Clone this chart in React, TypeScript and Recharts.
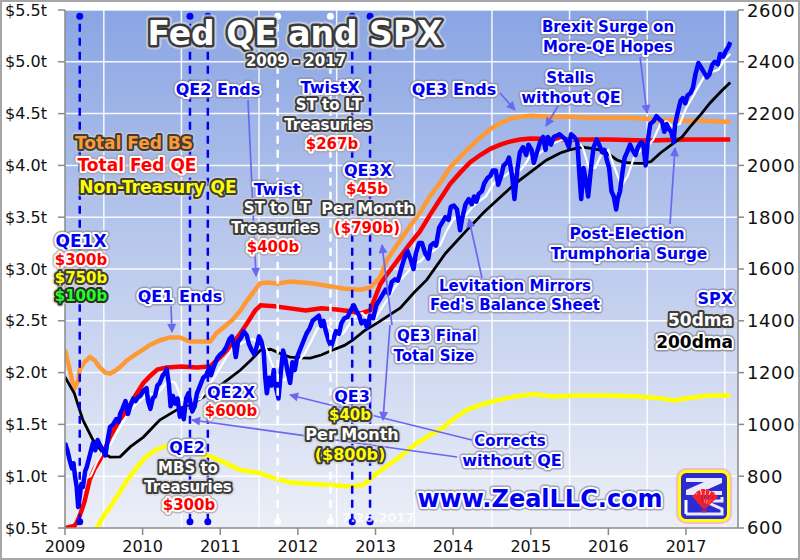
import React from 'react';
import { LineChart, Line, XAxis, YAxis, CartesianGrid, ReferenceLine, ReferenceDot } from 'recharts';

// ---------- axis ticks ----------
const yearTicks = [2009, 2010, 2011, 2012, 2013, 2014, 2015, 2016, 2017];
const gridYears = [2009, 2009.5, 2010, 2010.5, 2011, 2011.5, 2012, 2012.5, 2013, 2013.5, 2014, 2014.5, 2015, 2015.5, 2016, 2016.5, 2017, 2017.5];
const fedTicks = [0.5, 1, 1.5, 2, 2.5, 3, 3.5, 4, 4.5, 5, 5.5];
const fedMinorTicks = [0.5, 0.6, 0.7, 0.8, 0.9, 1, 1.1, 1.2, 1.3, 1.4, 1.5, 1.6, 1.7, 1.8, 1.9, 2, 2.1, 2.2, 2.3, 2.4, 2.5, 2.6, 2.7, 2.8, 2.9, 3, 3.1, 3.2, 3.3, 3.4, 3.5, 3.6, 3.7, 3.8, 3.9, 4, 4.1, 4.2, 4.3, 4.4, 4.5, 4.6, 4.7, 4.8, 4.9, 5, 5.1, 5.2, 5.3, 5.4, 5.5];
const spxTicks = [600, 800, 1000, 1200, 1400, 1600, 1800, 2000, 2200, 2400, 2600];
const spxMinorTicks = [600, 650, 700, 750, 800, 850, 900, 950, 1000, 1050, 1100, 1150, 1200, 1250, 1300, 1350, 1400, 1450, 1500, 1550, 1600, 1650, 1700, 1750, 1800, 1850, 1900, 1950, 2000, 2050, 2100, 2150, 2200, 2250, 2300, 2350, 2400, 2450, 2500, 2550, 2600];

// ---------- QE event dates ----------
const qeEventDates = [2009.19, 2010.61, 2010.84, 2012.7, 2012.93];
const twistEventDates = [2011.74, 2012.42];

// ---------- SPX (right axis) ----------
const spxDates = [
  2009.00, 2009.03, 2009.06, 2009.09, 2009.11, 2009.13, 2009.15, 2009.17, 2009.19, 2009.21, 2009.23, 2009.26, 2009.28, 2009.31, 2009.34, 2009.36, 2009.39, 2009.42, 2009.45, 2009.49, 2009.52, 2009.55, 2009.58, 2009.62, 2009.66, 2009.69, 2009.71, 2009.74, 2009.78, 2009.81, 2009.84, 2009.88, 2009.91, 2009.94, 2009.97,
  2010.01, 2010.05, 2010.07, 2010.10, 2010.13, 2010.16, 2010.19, 2010.22, 2010.26, 2010.29, 2010.31, 2010.34, 2010.36, 2010.39, 2010.42, 2010.45, 2010.48, 2010.50, 2010.53, 2010.56, 2010.59, 2010.62, 2010.64, 2010.67, 2010.70, 2010.74, 2010.78, 2010.82, 2010.86, 2010.88, 2010.92, 2010.96,
  2011.00, 2011.04, 2011.08, 2011.12, 2011.15, 2011.18, 2011.20, 2011.23, 2011.27, 2011.30, 2011.34, 2011.37, 2011.40, 2011.44, 2011.47, 2011.50, 2011.53, 2011.56, 2011.58, 2011.60, 2011.63, 2011.66, 2011.69, 2011.72, 2011.75, 2011.78, 2011.81, 2011.84, 2011.87, 2011.90, 2011.93, 2011.96, 2011.99,
  2012.03, 2012.07, 2012.11, 2012.15, 2012.19, 2012.23, 2012.27, 2012.30, 2012.33, 2012.36, 2012.40, 2012.43, 2012.46, 2012.49, 2012.53, 2012.56, 2012.60, 2012.64, 2012.68, 2012.72, 2012.75, 2012.79, 2012.82, 2012.86, 2012.89, 2012.93, 2012.97,
  2013.01, 2013.05, 2013.09, 2013.13, 2013.17, 2013.21, 2013.25, 2013.29, 2013.33, 2013.37, 2013.41, 2013.45, 2013.49, 2013.52, 2013.56, 2013.60, 2013.64, 2013.68, 2013.71, 2013.75, 2013.78, 2013.82, 2013.86, 2013.90, 2013.94, 2013.97,
  2014.01, 2014.05, 2014.09, 2014.12, 2014.16, 2014.20, 2014.24, 2014.27, 2014.30, 2014.33, 2014.37, 2014.40, 2014.44, 2014.48, 2014.51, 2014.55, 2014.58, 2014.62, 2014.65, 2014.69, 2014.72, 2014.76, 2014.79, 2014.83, 2014.86, 2014.90, 2014.94, 2014.97,
  2015.01, 2015.04, 2015.08, 2015.12, 2015.16, 2015.19, 2015.22, 2015.26, 2015.30, 2015.34, 2015.37, 2015.41, 2015.45, 2015.49, 2015.52, 2015.56, 2015.60, 2015.63, 2015.65, 2015.68, 2015.71, 2015.74, 2015.78, 2015.81, 2015.85, 2015.88, 2015.92, 2015.95, 2015.98,
  2016.01, 2016.04, 2016.07, 2016.10, 2016.12, 2016.15, 2016.18, 2016.21, 2016.24, 2016.28, 2016.31, 2016.35, 2016.38, 2016.42, 2016.45, 2016.48, 2016.51, 2016.54, 2016.58, 2016.62, 2016.65, 2016.69, 2016.72, 2016.75, 2016.78, 2016.81, 2016.84, 2016.86, 2016.89, 2016.93, 2016.96, 2016.99,
  2017.02, 2017.06, 2017.09, 2017.12, 2017.16, 2017.20, 2017.23, 2017.27, 2017.30, 2017.34, 2017.37, 2017.41, 2017.44, 2017.48, 2017.51, 2017.55, 2017.57,
];
const spxValues = [
  928, 900, 862, 830, 850, 797, 760, 681, 720, 770, 758, 820, 835, 870, 905, 928, 900, 940, 920, 900, 880, 940, 990, 1000, 1020, 1010, 1040, 1060, 1090, 1040, 1070, 1100, 1090, 1105, 1110,
  1130, 1140, 1090, 1060, 1100, 1110, 1150, 1160, 1190, 1200, 1215, 1150, 1070, 1110, 1080, 1100, 1030, 1060, 1020, 1100, 1120, 1080, 1050, 1070, 1120, 1150, 1180, 1190, 1220, 1190, 1225, 1255,
  1270, 1280, 1300, 1330, 1340, 1300, 1260, 1320, 1335, 1360, 1345, 1310, 1290, 1270, 1300, 1340, 1320, 1280, 1180, 1120, 1180, 1150, 1210, 1140, 1100, 1200, 1285, 1250, 1200, 1160, 1240, 1210, 1260,
  1290, 1320, 1350, 1370, 1400, 1410, 1420, 1380, 1400, 1360, 1320, 1300, 1330, 1360, 1350, 1390, 1410, 1415, 1440, 1460, 1440, 1420, 1390, 1400, 1375, 1420, 1410,
  1460, 1480, 1500, 1520, 1505, 1550, 1560, 1555, 1600, 1640, 1670, 1640, 1600, 1660, 1700, 1700, 1660, 1640, 1690, 1700, 1690, 1760, 1780, 1800, 1790, 1840,
  1845, 1830, 1750, 1800, 1850, 1870, 1850, 1880, 1860, 1890, 1900, 1930, 1950, 1960, 1980, 1980, 1925, 1960, 2000, 2010, 2030, 1960, 1870, 1990, 2050, 2070, 2040, 2080,
  2060, 2010, 2050, 2090, 2110, 2060, 2110, 2080, 2110, 2115, 2120, 2110, 2100, 2070, 2120, 2110, 2090, 1950, 1870, 1990, 1940, 1880, 2000, 2070, 2100, 2080, 2050, 2060, 2020,
  1990, 1900, 1880, 1830, 1870, 1900, 1970, 2030, 2050, 2080, 2060, 2040, 2070, 2090, 2080, 2000, 2100, 2160, 2170, 2190, 2180, 2170, 2130, 2160, 2140, 2130, 2090, 2160, 2200, 2250, 2260, 2240,
  2270, 2280, 2300, 2350, 2395, 2375, 2360, 2340, 2350, 2390, 2400, 2390, 2430, 2420, 2440, 2460, 2476,
];

// ---------- SPX 50-day moving average ----------
const ma50Dates = [
  2009.00, 2009.08, 2009.17, 2009.25, 2009.33, 2009.42, 2009.50, 2009.58, 2009.67, 2009.75, 2009.83, 2009.92,
  2010.00, 2010.08, 2010.17, 2010.25, 2010.33, 2010.42, 2010.50, 2010.58, 2010.67, 2010.75, 2010.83, 2010.92,
  2011.00, 2011.08, 2011.17, 2011.25, 2011.33, 2011.42, 2011.50, 2011.58, 2011.67, 2011.75, 2011.83, 2011.92,
  2012.00, 2012.08, 2012.17, 2012.25, 2012.33, 2012.42, 2012.50, 2012.58, 2012.67, 2012.75, 2012.83, 2012.92,
  2013.00, 2013.08, 2013.17, 2013.25, 2013.33, 2013.42, 2013.50, 2013.58, 2013.67, 2013.75, 2013.83, 2013.92,
  2014.00, 2014.08, 2014.17, 2014.25, 2014.33, 2014.42, 2014.50, 2014.58, 2014.67, 2014.75, 2014.83, 2014.92,
  2015.00, 2015.08, 2015.17, 2015.25, 2015.33, 2015.42, 2015.50, 2015.58, 2015.67, 2015.75, 2015.83, 2015.92,
  2016.00, 2016.08, 2016.17, 2016.25, 2016.33, 2016.42, 2016.50, 2016.58, 2016.67, 2016.75, 2016.83, 2016.92,
  2017.00, 2017.08, 2017.17, 2017.25, 2017.33, 2017.42, 2017.50, 2017.57,
];
const ma50Values = [
  880, 870, 820, 790, 800, 860, 900, 920, 970, 1010, 1050, 1080,
  1100, 1120, 1110, 1140, 1170, 1160, 1100, 1080, 1090, 1100, 1140, 1180,
  1220, 1260, 1300, 1310, 1320, 1330, 1310, 1300, 1230, 1180, 1170, 1220,
  1240, 1270, 1320, 1370, 1390, 1370, 1340, 1350, 1390, 1420, 1430, 1400,
  1410, 1450, 1490, 1530, 1560, 1590, 1620, 1630, 1660, 1670, 1690, 1750,
  1790, 1810, 1810, 1840, 1860, 1880, 1920, 1950, 1960, 1980, 1970, 2000,
  2040, 2040, 2060, 2080, 2090, 2100, 2100, 2100, 2070, 1990, 1990, 2050,
  2060, 1990, 1920, 1960, 2030, 2060, 2070, 2100, 2160, 2170, 2150, 2160,
  2220, 2260, 2310, 2350, 2360, 2370, 2410, 2430,
];

// ---------- SPX 200-day moving average ----------
const ma200Dates = [
  2009.00, 2009.12, 2009.23, 2009.36, 2009.49, 2009.58, 2009.71, 2009.84, 2010.01, 2010.22, 2010.44, 2010.65, 2010.87,
  2011.09, 2011.26, 2011.40, 2011.52, 2011.65, 2011.80, 2011.90, 2012.03, 2012.16, 2012.30, 2012.45, 2012.60, 2012.71, 2012.85,
  2013.02, 2013.32, 2013.50, 2013.66, 2013.90, 2014.18, 2014.40, 2014.61, 2014.80, 2015.03, 2015.20, 2015.38, 2015.50, 2015.66,
  2015.80, 2015.90, 2016.00, 2016.11, 2016.20, 2016.32, 2016.45, 2016.55, 2016.67, 2016.84, 2016.95, 2017.05, 2017.20, 2017.31,
  2017.45, 2017.57,
];
const ma200Values = [
  1183, 1120, 1017, 940, 890, 874, 875, 913, 951, 1017, 1056, 1083, 1121,
  1171, 1210, 1250, 1287, 1290, 1270, 1260, 1257, 1256, 1268, 1287, 1305, 1326, 1360,
  1391, 1450, 1510, 1558, 1660, 1751, 1820, 1878, 1930, 1982, 2020, 2048, 2060, 2071,
  2065, 2059, 2045, 2021, 2012, 2009, 2008, 2015, 2048, 2086, 2110, 2148, 2200, 2241,
  2285, 2320,
];

// ---------- Total Fed balance sheet ($t, left axis) ----------
const fedBsDates = [
  2009.00, 2009.06, 2009.10, 2009.13, 2009.17, 2009.19, 2009.25, 2009.32, 2009.38, 2009.45, 2009.52, 2009.58, 2009.65, 2009.72, 2009.80, 2009.90,
  2010.00, 2010.10, 2010.22, 2010.35, 2010.48, 2010.61, 2010.75, 2010.87, 2010.95,
  2011.00, 2011.16, 2011.26, 2011.35, 2011.45, 2011.51, 2011.60, 2011.75, 2011.90,
  2012.05, 2012.20, 2012.35, 2012.45, 2012.60, 2012.80, 2012.93,
  2013.06, 2013.15, 2013.32, 2013.45, 2013.57, 2013.70, 2013.83, 2013.96,
  2014.09, 2014.22, 2014.35, 2014.48, 2014.61, 2014.73, 2014.86,
  2015.00, 2015.25, 2015.50, 2015.75, 2016.00, 2016.25, 2016.50, 2016.62, 2016.80, 2017.00, 2017.25, 2017.57,
];
const fedBsValues = [
  2.22, 2.03, 1.9, 1.86, 1.92, 2.03, 2.1, 2.15, 2.12, 2.05, 2.0, 1.99, 2.02, 2.06, 2.12, 2.17,
  2.22, 2.27, 2.31, 2.34, 2.34, 2.3, 2.3, 2.3, 2.38,
  2.41, 2.51, 2.6, 2.7, 2.8, 2.86, 2.87, 2.86, 2.88,
  2.87, 2.86, 2.84, 2.83, 2.81, 2.8, 2.82,
  2.92, 3.09, 3.28, 3.42, 3.54, 3.7, 3.83, 3.98,
  4.08, 4.18, 4.27, 4.35, 4.41, 4.45, 4.47,
  4.48, 4.47, 4.47, 4.46, 4.46, 4.46, 4.45, 4.43, 4.44, 4.43, 4.43, 4.42,
];

// ---------- Total Fed QE ($t, left axis) ----------
const fedQeDates = [
  2009.00, 2009.12, 2009.15, 2009.19, 2009.25, 2009.32, 2009.38, 2009.45, 2009.52, 2009.58, 2009.70, 2009.80, 2009.90,
  2010.01, 2010.10, 2010.19, 2010.31, 2010.50, 2010.70, 2010.87,
  2011.00, 2011.13, 2011.26, 2011.35, 2011.45, 2011.52, 2011.70, 2011.90,
  2012.10, 2012.30, 2012.50, 2012.70, 2012.80, 2012.93,
  2013.06, 2013.15, 2013.32, 2013.45, 2013.57, 2013.70, 2013.83, 2013.96,
  2014.09, 2014.22, 2014.35, 2014.48, 2014.61, 2014.73, 2014.86,
  2015.00, 2015.50, 2016.00, 2016.50, 2017.00, 2017.57,
];
const fedQeValues = [
  0.5, 0.52, 0.55, 0.62, 0.75, 0.97, 1.07, 1.16, 1.27, 1.38, 1.54, 1.64, 1.77,
  1.9, 1.97, 2.03, 2.05, 2.06, 2.05, 2.06,
  2.15, 2.25, 2.38, 2.48, 2.6, 2.65, 2.64, 2.62,
  2.6, 2.62, 2.61, 2.59, 2.57, 2.6,
  2.85, 2.95, 3.12, 3.25, 3.36, 3.52, 3.67, 3.82,
  3.93, 4.03, 4.1, 4.16, 4.2, 4.23, 4.25,
  4.26, 4.25, 4.25, 4.24, 4.25, 4.25,
];

// ---------- Non-Treasury QE ($t, left axis) ----------
const nonTreasDates = [
  2009.00, 2009.20, 2009.41, 2009.50, 2009.58, 2009.70, 2009.80, 2009.90,
  2010.01, 2010.10, 2010.22, 2010.35, 2010.50, 2010.70, 2010.87,
  2011.00, 2011.26, 2011.51, 2011.70, 2011.90,
  2012.10, 2012.30, 2012.50, 2012.70, 2012.85,
  2013.02, 2013.15, 2013.32, 2013.50, 2013.66, 2013.87,
  2014.00, 2014.18, 2014.40, 2014.61, 2014.80,
  2015.03, 2015.30, 2015.60, 2016.00, 2016.40, 2016.70, 2016.85, 2017.00, 2017.30, 2017.57,
];
const nonTreasValues = [
  0.05, 0.3, 0.5, 0.62, 0.7, 0.84, 0.96, 1.06,
  1.16, 1.22, 1.27, 1.3, 1.27, 1.22, 1.19,
  1.15, 1.06, 1.03, 0.98, 0.94,
  0.93, 0.92, 0.91, 0.9, 0.92,
  1.03, 1.1, 1.19, 1.3, 1.38, 1.47,
  1.55, 1.64, 1.7, 1.74, 1.77,
  1.79, 1.77, 1.78, 1.78, 1.77, 1.75, 1.73, 1.75, 1.78, 1.78,
];

const zip = (ts: number[], vs: number[]) => ts.map((t, i) => ({ t, v: vs[i] }));
const spxData = zip(spxDates, spxValues);
const ma50Data = zip(ma50Dates, ma50Values);
const ma200Data = zip(ma200Dates, ma200Values);
const fedBsData = zip(fedBsDates, fedBsValues);
const fedQeData = zip(fedQeDates, fedQeValues);
const nonTreasData = zip(nonTreasDates, nonTreasValues);

// ---------- annotation layout (overlay, page pixels) ----------
type Ann = { t: string; x: number; y: number; s: number; k: string; a?: 'start' | 'middle' | 'end' };
const annotations: Ann[] = [
  { t: 'Fed QE and SPX', x: 295, y: 33, s: 33, k: 'title' },
  { t: '2009 - 2017', x: 296, y: 61, s: 15, k: 'white' },
  { t: 'QE2 Ends', x: 218, y: 89, s: 16, k: 'blue' },
  { t: 'TwistX', x: 330, y: 87, s: 16, k: 'blue' },
  { t: 'ST to LT', x: 329, y: 105, s: 15, k: 'white' },
  { t: 'Treasuries', x: 328, y: 125, s: 15, k: 'white' },
  { t: '$267b', x: 332, y: 144, s: 15, k: 'red' },
  { t: 'Total Fed BS', x: 134, y: 143, s: 17, k: 'orange' },
  { t: 'Total Fed QE', x: 137, y: 165, s: 17, k: 'red' },
  { t: 'Non-Treasury QE', x: 158, y: 187, s: 17, k: 'yellow' },
  { t: 'Twist', x: 277, y: 189, s: 16, k: 'blue' },
  { t: 'ST to LT', x: 277, y: 208, s: 15, k: 'white' },
  { t: 'Treasuries', x: 275, y: 228, s: 15, k: 'white' },
  { t: '$400b', x: 273, y: 247, s: 15, k: 'red' },
  { t: 'QE3X', x: 368, y: 170, s: 16, k: 'blue' },
  { t: '$45b', x: 367, y: 189, s: 15, k: 'red' },
  { t: 'Per Month', x: 368, y: 208, s: 16, k: 'white' },
  { t: '($790b)', x: 367, y: 228, s: 15, k: 'red' },
  { t: 'QE1X', x: 81, y: 241, s: 17, k: 'blue' },
  { t: '$300b', x: 81, y: 260, s: 15, k: 'red' },
  { t: '$750b', x: 81, y: 278, s: 15, k: 'yellow' },
  { t: '$100b', x: 81, y: 296, s: 15, k: 'green' },
  { t: 'QE1 Ends', x: 180, y: 296, s: 16, k: 'blue' },
  { t: 'QE2X', x: 231, y: 392, s: 16, k: 'blue' },
  { t: '$600b', x: 231, y: 411, s: 15, k: 'red' },
  { t: 'QE2', x: 187, y: 447, s: 16, k: 'blue' },
  { t: 'MBS to', x: 188, y: 468, s: 15, k: 'white' },
  { t: 'Treasuries', x: 188, y: 487, s: 15, k: 'white' },
  { t: '$300b', x: 189, y: 505, s: 15, k: 'red' },
  { t: 'QE3', x: 352, y: 396, s: 16, k: 'blue' },
  { t: '$40b', x: 350, y: 415, s: 15, k: 'yellow' },
  { t: 'Per Month', x: 352, y: 434, s: 16, k: 'white' },
  { t: '($800b)', x: 350, y: 454, s: 16, k: 'yellow' },
  { t: 'QE3 Ends', x: 454, y: 89, s: 16, k: 'blue' },
  { t: 'Stalls', x: 570, y: 78, s: 15, k: 'blue' },
  { t: 'without QE', x: 571, y: 97, s: 16, k: 'blue' },
  { t: 'Brexit Surge on', x: 608, y: 27, s: 15, k: 'blue' },
  { t: 'More-QE Hopes', x: 608, y: 47, s: 15, k: 'blue' },
  { t: 'Post-Election', x: 627, y: 234, s: 15.5, k: 'blue' },
  { t: 'Trumphoria Surge', x: 629, y: 254, s: 15.5, k: 'blue' },
  { t: 'Levitation Mirrors', x: 515, y: 286, s: 15, k: 'blue' },
  { t: "Fed's Balance Sheet", x: 515, y: 305, s: 15, k: 'blue' },
  { t: 'QE3 Final', x: 437, y: 336, s: 15, k: 'blue' },
  { t: 'Total Size', x: 434, y: 356, s: 15, k: 'blue' },
  { t: 'SPX', x: 733, y: 298, s: 16, k: 'blue', a: 'end' },
  { t: '50dma', x: 733, y: 320, s: 17, k: 'white', a: 'end' },
  { t: '200dma', x: 733, y: 342, s: 17, k: 'black', a: 'end' },
  { t: 'Corrects', x: 510, y: 441, s: 15, k: 'blue' },
  { t: 'without QE', x: 512, y: 460, s: 16, k: 'blue' },
  { t: 'www.ZealLLC.com', x: 540, y: 499, s: 24, k: 'blue' },
  { t: '7.26.2017', x: 378, y: 517, s: 13, k: 'date' },
];

const arrows: number[][] = [
  [248, 100, 256, 276],
  [171, 306, 172, 332],
  [500, 93, 515, 110],
  [558, 106, 546, 126],
  [640, 57, 647, 113],
  [670, 224, 675, 148],
  [482, 278, 469, 219],
  [392, 325, 382, 245],
  [390, 325, 383, 420],
  [472, 440, 290, 395],
  [457, 457, 192, 420],
];

const annStyles: Record<string, any> = {
  title: { fill: '#ffffff', inner: '#3a3a3a', iw: 5, outer: '#d8d8d8', ow: 9 },
  blue: { fill: '#0000ee', inner: '#ffffff', iw: 4, outer: '#8c8ca8', ow: 7 },
  white: { fill: '#ffffff', inner: '#3c3c3c', iw: 4, outer: '#d0d0d0', ow: 7 },
  red: { fill: '#ff0000', inner: '#ffffff', iw: 4, outer: '#b0a0a0', ow: 7 },
  yellow: { fill: '#ffff00', inner: '#3c3c3c', iw: 4, outer: '#d0d0d0', ow: 7 },
  orange: { fill: '#ff9933', inner: '#3c3c3c', iw: 4, outer: '#d0d0d0', ow: 7 },
  green: { fill: '#22ff22', inner: '#2c2c2c', iw: 4, outer: '#d0d0d0', ow: 7 },
  black: { fill: '#000000', inner: '#ffffff', iw: 4, outer: '#808080', ow: 7 },
};

const FONT = "'DejaVu Sans', Verdana, sans-serif";

function AnnText({ a }: { a: Ann }) {
  if (a.k === 'date') {
    return (
      <text x={a.x} y={a.y} textAnchor="middle" dominantBaseline="central" fontFamily={FONT} fontWeight="bold" fontSize={a.s} fill="#ffffff" fillOpacity={0.8}>
        {a.t}
      </text>
    );
  }
  const st = annStyles[a.k];
  const common = {
    x: a.x,
    y: a.y,
    textAnchor: a.a || 'middle',
    dominantBaseline: 'central' as const,
    fontFamily: FONT,
    fontWeight: 'bold',
    fontSize: a.s,
    strokeLinejoin: 'round' as const,
  };
  return (
    <g>
      <text {...common} fill={st.outer} stroke={st.outer} strokeWidth={st.ow} opacity={0.7}>
        {a.t}
      </text>
      <text {...common} fill={st.fill} stroke={st.inner} strokeWidth={st.iw} paintOrder="stroke">
        {a.t}
      </text>
    </g>
  );
}

function Logo() {
  return (
    <g transform="translate(678,470)">
      <rect x={-2} y={-2} width={56} height={56} rx={10} fill="#f4b4b4" opacity={0.8} />
      <rect x={1.5} y={1.5} width={49} height={49} rx={7} fill="#2a2ad6" stroke="#ffff00" strokeWidth={3} />
      <path d="M8 8 H44 V13 L26 21 H44 V25 H8 V20 L26 12 H8 Z" fill="#ffffff" opacity={0.9} />
      <path d="M8 44 H44 V39 L26 31 H44 V27" fill="none" stroke="#ffffff" strokeWidth={3} opacity={0.9} />
      <path d="M8 44 V30" stroke="#ffffff" strokeWidth={3} />
      <path d="M26 40 L14 26 L18 23 Z M26 40 L18 22 L22 20 Z M26 40 L23 19 L27 19 Z M26 40 L28 19 L32 20 Z M26 40 L33 21 L37 23 Z M26 40 L37 24 L40 27 Z" fill="#ff2020" />
      <path d="M20 38 Q26 44 32 38 L26 43 Z" fill="#ff2020" />
    </g>
  );
}

const leftFmt = (v: number) => `$${v.toFixed(1)}t`;

function YearTick(props: any) {
  const { x, y, payload } = props;
  return (
    <text x={x} y={y} dy={12} textAnchor="middle" fontFamily={FONT} fontSize={16} fill="#111">
      {payload.value}
    </text>
  );
}

export default function App() {
  return (
    <div style={{ position: 'relative', width: 800, height: 560, background: '#ffffff', overflow: 'hidden' }}>
      <style>{`body{margin:0;}`}</style>
      <div style={{ position: 'absolute', left: 0, top: 0 }}>
        <LineChart width={800} height={560} margin={{ top: 10, right: 0, bottom: 2, left: 0 }}>
          <defs>
            <linearGradient id="plotBg" x1="0" y1="0" x2="0" y2="1">
              <stop offset="0" stopColor="#8aa5e4" />
              <stop offset="0.5" stopColor="#bdcbed" />
              <stop offset="1" stopColor="#eceff7" />
            </linearGradient>
          </defs>
          <CartesianGrid
            xAxisId="main"
            yAxisId="left"
            verticalValues={gridYears}
            fill="url(#plotBg)"
            fillOpacity={1}
            stroke="#ffffff"
            strokeWidth={1.5}
            strokeOpacity={0.9}
          />
          <XAxis
            xAxisId="main"
            type="number"
            dataKey="t"
            domain={[2009, 2017.67]}
            ticks={yearTicks}
            allowDataOverflow
            height={30}
            tickSize={7}
            tickMargin={5}
            stroke="#8a8a8a"
            strokeWidth={1.5}
            tick={<YearTick />}
          />
          <YAxis
            yAxisId="leftMinor"
            orientation="left"
            width={0}
            type="number"
            domain={[0.5, 5.5]}
            ticks={fedMinorTicks}
            allowDataOverflow
            tick={false}
            tickSize={4}
            axisLine={false}
            stroke="#8a8a8a"
          />
          <YAxis
            yAxisId="left"
            orientation="left"
            width={65}
            type="number"
            domain={[0.5, 5.5]}
            ticks={fedTicks}
            allowDataOverflow
            tickSize={7}
            tickMargin={11}
            stroke="#8a8a8a"
            strokeWidth={1.5}
            tickFormatter={leftFmt}
            tick={{ fill: '#111', fontSize: 16, fontFamily: FONT }}
          />
          <YAxis
            yAxisId="rightMinor"
            orientation="right"
            width={0}
            type="number"
            domain={[600, 2600]}
            ticks={spxMinorTicks}
            allowDataOverflow
            tick={false}
            tickSize={4}
            axisLine={false}
            stroke="#8a8a8a"
          />
          <YAxis
            yAxisId="right"
            orientation="right"
            width={62}
            type="number"
            domain={[600, 2600]}
            ticks={spxTicks}
            allowDataOverflow
            tickSize={6}
            tickMargin={3}
            stroke="#8a8a8a"
            strokeWidth={1.5}
            tick={{ fill: '#111', fontSize: 18, fontFamily: FONT, letterSpacing: 0.6 }}
          />

          <Line data={nonTreasData} xAxisId="main" yAxisId="left" dataKey="v" stroke="#ffff00" strokeWidth={4.5} dot={false} isAnimationActive={false} />
          <Line data={fedBsData} xAxisId="main" yAxisId="left" dataKey="v" stroke="#ff9933" strokeWidth={4.5} dot={false} isAnimationActive={false} />
          <Line data={fedQeData} xAxisId="main" yAxisId="left" dataKey="v" stroke="#ff0000" strokeWidth={4.5} dot={false} isAnimationActive={false} />
          <Line data={ma200Data} xAxisId="main" yAxisId="right" dataKey="v" stroke="#000000" strokeWidth={2.8} dot={false} isAnimationActive={false} />
          <Line data={ma50Data} xAxisId="main" yAxisId="right" dataKey="v" stroke="#ffffff" strokeWidth={2.2} dot={false} isAnimationActive={false} />
          <Line data={spxData} xAxisId="main" yAxisId="right" dataKey="v" stroke="#0000ff" strokeWidth={4.5} strokeLinejoin="round" dot={false} isAnimationActive={false} />

          {qeEventDates.map((d) => (
            <ReferenceLine key={`qe${d}`} xAxisId="main" yAxisId="left" segment={[{ x: d, y: 0.56 }, { x: d, y: 5.44 }]} stroke="#0000ee" strokeWidth={2.5} strokeDasharray="8 6" />
          ))}
          {twistEventDates.map((d) => (
            <ReferenceLine key={`tw${d}`} xAxisId="main" yAxisId="left" segment={[{ x: d, y: 0.56 }, { x: d, y: 5.44 }]} stroke="#ffffff" strokeWidth={2.5} strokeDasharray="8 6" />
          ))}
          {qeEventDates.map((d) => (
            <ReferenceDot key={`qt${d}`} xAxisId="main" yAxisId="left" x={d} y={5.44} r={3.5} fill="#0000ee" stroke="none" />
          ))}
          {qeEventDates.map((d) => (
            <ReferenceDot key={`qb${d}`} xAxisId="main" yAxisId="left" x={d} y={0.56} r={3.5} fill="#0000ee" stroke="none" />
          ))}
          {twistEventDates.map((d) => (
            <ReferenceDot key={`tt${d}`} xAxisId="main" yAxisId="left" x={d} y={5.44} r={3.5} fill="#ffffff" stroke="none" />
          ))}
          {twistEventDates.map((d) => (
            <ReferenceDot key={`tb${d}`} xAxisId="main" yAxisId="left" x={d} y={0.56} r={3.5} fill="#ffffff" stroke="none" />
          ))}
        </LineChart>
      </div>
      <svg width={800} height={560} style={{ position: 'absolute', left: 0, top: 0, pointerEvents: 'none' }}>
        <defs>
          <marker id="arrowHead" viewBox="0 0 10 10" refX="9" refY="5" markerUnits="userSpaceOnUse" markerWidth="10" markerHeight="9" orient="auto">
            <path d="M0,0 L10,5 L0,10 z" fill="#6868f0" />
          </marker>
        </defs>
        {arrows.map((a, i) => (
          <line key={`ar${i}`} x1={a[0]} y1={a[1]} x2={a[2]} y2={a[3]} stroke="#6868f0" strokeWidth={1.7} markerEnd="url(#arrowHead)" />
        ))}
        {annotations.map((a, i) => (
          <AnnText key={`an${i}`} a={a} />
        ))}
        <Logo />
      </svg>
      <div style={{ position: 'absolute', left: 0, top: 0, width: 800, height: 560, boxSizing: 'border-box', border: '2px solid #a6a6a6', pointerEvents: 'none' }} />
    </div>
  );
}
